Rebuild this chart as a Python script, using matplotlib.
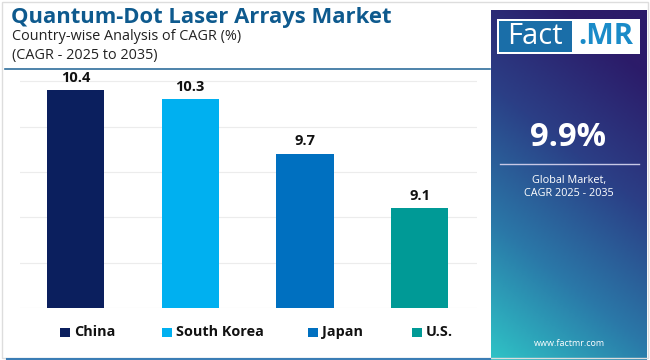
import numpy as np
import matplotlib.pyplot as plt
from matplotlib.colors import LinearSegmentedColormap
from matplotlib.patches import Rectangle
from matplotlib.lines import Line2D

# data
countries = ["China", "South Korea", "Japan", "U.S."]
cagr = [10.4, 10.3, 9.7, 9.1]
bar_colors = ["#0b1f5e", "#00b0f0", "#0070c0", "#009a96"]
global_cagr = "9.9%"

title = "Quantum-Dot Laser Arrays Market"
subtitle = ["Country-wise Analysis of CAGR (%)", "(CAGR - 2025 to 2035)"]

plt.rcParams['font.family'] = ['Open Sans', 'DejaVu Sans']

W, H = 650, 360
fig = plt.figure(figsize=(W / 100, H / 100), dpi=100)
fig.patch.set_facecolor("white")


def fx(px):
    return px / W


def fy(py):
    return 1 - py / H


# outer light border
fig.add_artist(Rectangle((fx(2), fy(358)), fx(646), 356 / H, transform=fig.transFigure,
                         fill=False, edgecolor="#dddddd", lw=1))

# title block
fig.text(fx(11), fy(18), title, fontsize=15.8, fontweight="bold", color="#0e5a8e", va="center")
fig.text(fx(12), fy(37), subtitle[0], fontsize=10.4, color="#222222", va="center")
fig.text(fx(12), fy(56), subtitle[1], fontsize=10.4, color="#222222", va="center")
fig.add_artist(Line2D([fx(5), fx(490)], [fy(69), fy(69)], transform=fig.transFigure,
                      color="#2f6e9c", lw=1.2))

# bar chart
ax = fig.add_axes([fx(20), fy(308), fx(457), 233 / H])
x = np.arange(len(countries))
ax.bar(x, cagr, width=0.5, color=bar_colors, zorder=3)
for xi, v in zip(x, cagr):
    ax.text(xi, v + 0.06, f"{v}", ha="center", va="bottom", fontsize=10.5,
            fontweight="bold", color="#111111", clip_on=False)
ax.set_ylim(8, 10.57)
ax.set_xlim(-0.485, 3.5)
ax.set_yticks(np.arange(8, 10.51, 0.5))
ax.yaxis.grid(True, color="#ececec", lw=0.8)
ax.tick_params(left=False, bottom=False, labelleft=False, labelbottom=False)
for s in ax.spines.values():
    s.set_visible(False)
ax.set_facecolor("none")

# legend
leg_sq = [60, 162, 308, 412]
for px, name, c in zip(leg_sq, countries, bar_colors):
    fig.add_artist(Rectangle((fx(px), fy(337)), fx(9.5), 9.5 / H, transform=fig.transFigure,
                             facecolor=c, edgecolor="none"))
    fig.text(fx(px + 14), fy(332), name, fontsize=10.4, fontweight="bold", color="#111111",
             va="center")

# bottom accent line
fig.add_artist(Line2D([fx(7), fx(490)], [fy(358.5), fy(358.5)], transform=fig.transFigure,
                      color="#3a7db5", lw=1.5))

# right panel with gradient
pan = fig.add_axes([fx(491), fy(360), fx(156), 350 / H])
u, v = np.meshgrid(np.linspace(0, 1, 100), np.linspace(0, 1, 200))
t = np.clip(v * 0.85 + u * 0.3, 0, 1)
cmap = LinearSegmentedColormap.from_list("pan", ["#2fc3c6", "#2a78a8", "#2b3f86", "#2c1b69"])
pan.imshow(t, cmap=cmap, origin="lower", extent=[0, 1, 0, 1], aspect="auto")
pan.set_xlim(0, 1)
pan.set_ylim(0, 1)
pan.axis("off")

# logo
fig.add_artist(Rectangle((fx(497), fy(54)), fx(143), 35 / H, transform=fig.transFigure,
                         facecolor="white", edgecolor="none"))
fig.add_artist(Rectangle((fx(499), fy(52)), fx(73), 31 / H, transform=fig.transFigure,
                         facecolor="#1a6ea8", edgecolor="none"))
fig.text(fx(535), fy(37), "Fact", fontsize=21, color="white", ha="center", va="center")
fig.text(fx(606), fy(37), ".MR", fontsize=21, fontweight="bold", color="#1a8bc8",
         ha="center", va="center")

fig.text(fx(568), fy(137), global_cagr, fontsize=23.5, fontweight="bold", color="white",
         ha="center", va="center")
fig.add_artist(Line2D([fx(500), fx(639)], [fy(164), fy(164)], transform=fig.transFigure,
                      color="#c8c8e6", lw=1))
fig.text(fx(569), fy(180), "Global Market,", fontsize=7.8, color="white", ha="center", va="center")
fig.text(fx(569), fy(194), "CAGR 2025 - 2035", fontsize=7.8, color="white", ha="center", va="center")
fig.text(fx(569), fy(343), "www.factmr.com", fontsize=6.5, color="white", ha="center", va="center")

fig.savefig("out.png", dpi=100)
